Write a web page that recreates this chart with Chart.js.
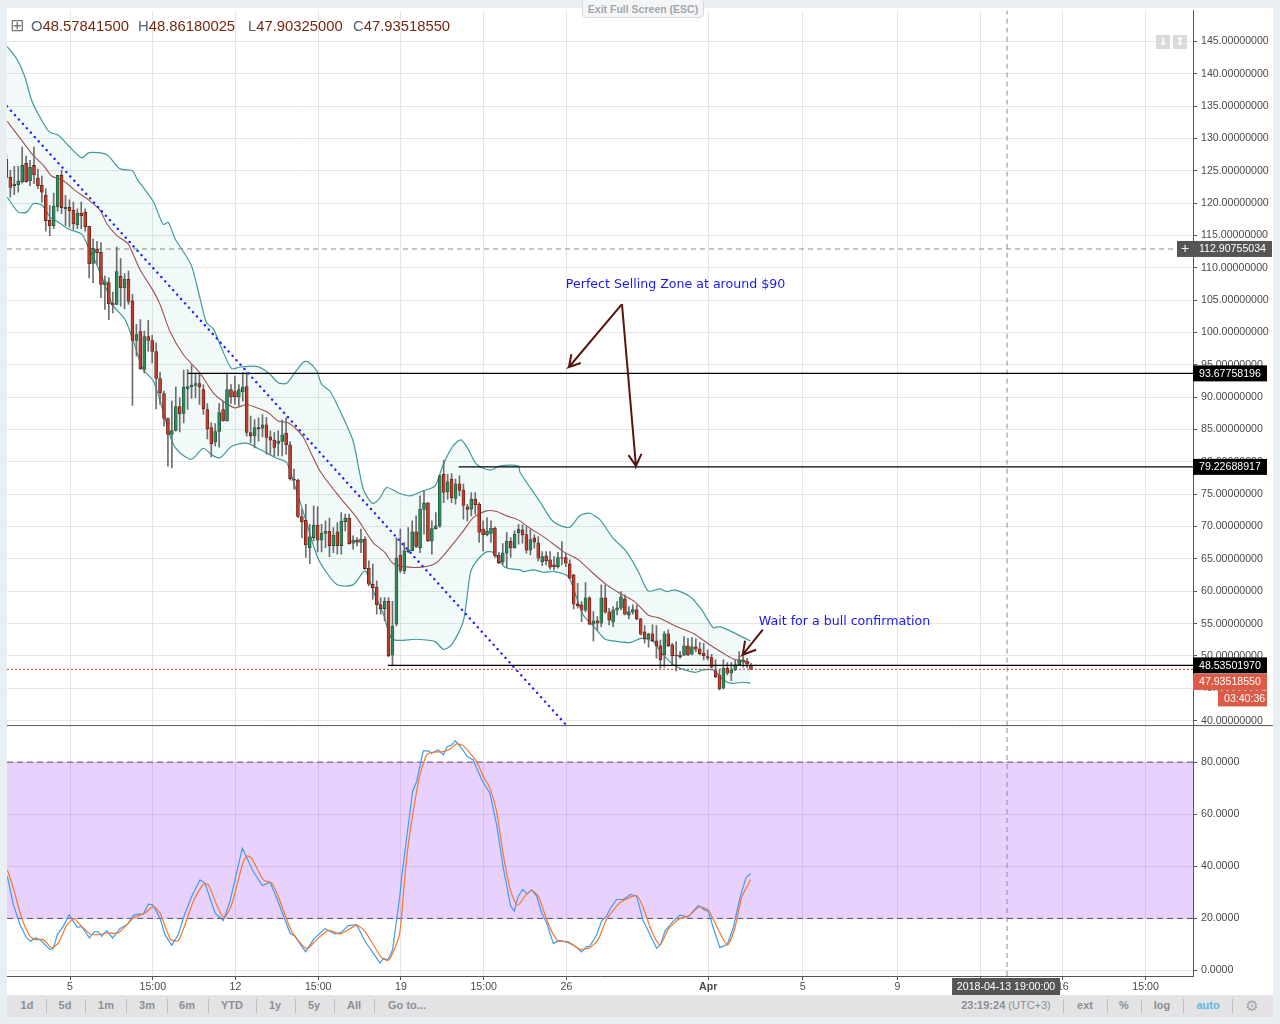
<!DOCTYPE html>
<html>
<head>
<meta charset="utf-8">
<style>
html, body { margin: 0; padding: 0; width: 1280px; height: 1024px; overflow: hidden; background: #e9eef2; }
#chart { position: absolute; left: 0; top: 0; }
.txt { position: absolute; white-space: nowrap; font-family: "Liberation Sans", sans-serif; }
#legend { position: absolute; left: 0; top: 18px; font: 14.8px "Liberation Sans", sans-serif; color: #74280f; }
#legend span { position: absolute; top: 0; white-space: nowrap; }
#legend b { font-weight: normal; color: #54606e; }
#toolbar { position: absolute; left: 7px; top: 995px; width: 1266px; height: 22px; background: #e3e3e6; }
#toolbar span { position: absolute; top: 4px; font: bold 11px "Liberation Sans", sans-serif; color: #8e8e92; transform: translateX(-50%); white-space: nowrap; }
#toolbar i { position: absolute; top: 4px; width: 1px; height: 14px; background: #bdbdc2; }
.iconbox { position: absolute; top: 35px; width: 14px; height: 14px; background: #dadada; color: #fff; font: bold 11px/14px "DejaVu Sans", sans-serif; text-align: center; }
#exit { position: absolute; left: 582px; top: -3px; width: 120px; height: 19px; border: 1px solid #d8dadd; border-radius: 4px; background: #f4f5f6; color: #a2a6ab; font: bold 10.5px/23px "Liberation Sans", sans-serif; text-align: center; }
</style>
</head>
<body>
<canvas id="chart" width="1280" height="1024" style="width:1280px;height:1024px"></canvas>
<div id="exit">Exit Full Screen (ESC)</div>
<div class="txt" style="left:10px;top:15px;font:17px 'DejaVu Sans',sans-serif;color:#777">⊞</div>
<div id="legend">
  <span style="left:31px"><b>O</b>48.57841500</span>
  <span style="left:138px"><b>H</b>48.86180025</span>
  <span style="left:248px"><b>L</b>47.90325000</span>
  <span style="left:353px"><b>C</b>47.93518550</span>
</div>
<div class="iconbox" style="left:1156px">↓</div>
<div class="iconbox" style="left:1173px">↕</div>
<div id="toolbar"></div>
<script src="https://cdn.jsdelivr.net/npm/chart.js@4/dist/chart.umd.min.js"></script>
<script>
// candles, one per 4h bar
const candleOpen = [126.75,123.97,122.68,122.84,123.3,126.13,123.45,125.82,123.87,122.73,121.24,117.32,116.49,119.43,124.28,119.12,119.33,118.87,116.65,118.4,118.61,
  116.39,110.67,112.84,112.37,107.37,107.73,104.54,104.33,108.66,106.91,108.2,104.9,98.76,100.15,94.28,99.38,98.76,97.06,92.89,90.57,86.7,84.23,84.85,88.56,87.47,91.29,91.6,91.8,92.11,91.19,88.09,85.31,83.09,84.69,88.09,86.34,91.19,90.88,90.05,90.82,91.65,84.54,84.02,85.31,
  85.21,85.72,83.87,83.35,82.84,83.14,84.43,82.63,77.32,77.16,71.55,70.98,66.75,68.3,70.21,67.89,68.92,69.28,67.06,69.18,67.06,70.77,71.29,67.42,67.89,67.53,68.04,63.56,61.08,60.62,57.89,57.32,58.45,50.1,54.9,65.57,63.14,66.13,66.29,69.18,66.75,72.63,73.66,67.78,69.69,70.1,78.09,75.36,77.32,74.33,76.6,75.62,73.04,72.68,74.23,73.45,69.59,68.76,68.92,69.74,65.57,64.54,65.88,67.73,66.75,69.07,
  69.48,68.76,66.34,68.25,67.47,64.59,65.46,64.85,64.07,63.81,65.21,65.21,64.23,62.53,58.04,57.89,57.06,58.97,54.9,55.41,55.05,58.97,56.8,55.21,57.06,57.37,58.81,56.29,56.75,57.11,55.72,53.71,52.63,53.4,52.32,51.55,50.15,53.4,51.7,50.15,50.15,50.1,51.55,50.26,51.39,51.08,50.46,49.9,49.74,47.68,47.06,45,48.09,47.32,47.84,48.61,49.38,49.12,48.58];
const candleHigh = [127.5,125.05,125.67,125.67,128.66,127.27,126.6,128.66,125.26,124.18,122.22,119.64,121.55,124.28,125.05,121.19,120.52,120.15,119.12,120.15,119.12,
  116.4,114.43,114.1,113.9,108.71,108.45,106.24,113.2,111.44,109.12,109.48,105.88,101.24,102.01,100.21,101.86,99.54,98.4,93.87,90.93,86.8,89.38,91.6,89.9,94.18,94.28,94.95,93.76,93.66,91.96,89.02,86.03,85.93,89.02,89.38,93.76,91.96,93.25,91.96,93.76,93.76,87.06,86.55,86.8,
  87.3,86.9,84.79,84.54,84.79,86.5,86.8,83.14,78.87,77.32,72.68,73.45,70.36,73.2,73.04,70.36,70.88,71.29,69.85,70.62,72.16,71.91,71.91,68.56,68.3,69.59,68.4,64.69,64.18,61.6,59.02,59.02,59.02,58.45,68.3,69.59,67.53,69.85,70.88,71.65,74.74,75.52,73.71,70.88,72.16,78.09,80.26,78.09,78.2,77.32,77.84,76.55,73.45,75.26,75.26,73.71,70.88,71.39,70.88,69.95,65.98,67.37,69.07,68.3,69.33,70.36,
  70.26,70,69.48,68.71,68.45,66.13,66.13,66.13,65.36,66.03,67.68,65.88,64.85,62.63,61.24,58.4,61.34,59.18,56.86,56.08,60.98,60.98,57.37,57.63,58.4,59.95,59.43,57.63,57.89,57.89,55.82,54.69,53.51,54.79,54.69,52.47,53.76,54.02,51.96,52.22,50.67,52.99,52.73,52.84,52.63,52.11,51.96,50.93,50.26,49.38,47.84,49.38,48.97,48.97,49.38,50.67,50.15,49.64,48.86];
const candleLow = [123.5,120.93,121.29,121.7,123.09,123.25,122.68,122.99,122.22,120.15,115.67,114.95,116.03,118.76,118.35,116.55,116.29,115.93,116.03,116.03,115.67,
  108.45,107.68,110.52,105.36,103.56,101.96,103.04,104.33,104.07,103.66,104.33,88.71,96.34,94.28,93.76,97.11,95.31,88.2,88.87,85.52,79.33,79.07,84.74,84.64,86.03,88.09,89.79,89.9,88.87,87.32,83.56,80.77,82.42,82.27,86.29,86.29,89.02,88.87,88.61,89.38,83.97,82.94,82.16,83.2,
  83.87,81.19,81.19,80.93,80.93,80.93,81.19,77.16,75.77,71.39,68.3,65.21,64.28,67.78,66.08,66.08,66.75,65.36,65.98,65.72,65.72,69.33,67.27,66.49,67.01,65.98,63.4,60.82,58.76,56.44,56.44,55.41,49.9,48.45,54.64,62.89,62.73,65.98,66.24,66.75,65.98,68.81,67.68,65.72,69.59,69.85,73.71,74.23,73.71,73.45,74.74,71.13,70.88,71.65,71.91,67.53,66.24,68.56,67.53,65.21,64.28,64.18,63.66,65.21,66.65,67.27,
  67.42,65.88,65.62,66.65,64.69,63.97,64.07,63.4,63.3,63.56,64.07,63.81,61.91,57.27,57.37,55.31,56.86,54.79,52.32,54.02,54.54,56.6,54.79,54.54,56.34,57.11,56.34,55.72,56.44,55.57,53.25,51.96,51.34,52.22,49.64,48.09,48.25,51.44,48.61,47.68,49.64,50.05,50.05,50.15,50.67,50.15,49.38,49.38,48.14,46.65,44.74,44.9,47.06,46.19,47.73,48.51,48.25,48.2,47.9];
const candleClose = [123.97,122.42,122.94,123.4,125.82,123.3,125.57,124.38,122.68,121.7,117.27,116.49,119.54,124.28,119.28,119.38,118.81,116.8,118.45,118.04,116.34,
  110.62,112.99,112.32,107.42,107.84,104.43,104.28,109.43,106.91,108.25,104.79,98.76,99.69,94.38,99.38,98.76,97.06,92.89,90.67,86.7,84.23,84.85,88.56,87.42,91.55,91.65,91.86,92.11,91.6,88.2,85.1,82.78,84.69,87.63,86.34,91.19,90.05,90.05,91.19,91.55,84.54,84.02,85.31,85.1,
  85.72,83.76,83.35,82.22,83.2,84.18,82.63,77.42,77.16,71.55,70.77,67.16,68.4,70.21,67.89,68.97,69.28,67.06,68.66,67.06,70.82,71.29,67.37,67.89,67.58,68.04,63.5,61.08,60.57,57.94,57.32,58.45,50,54.59,65.1,63.2,66.24,66.39,69.18,66.91,72.68,73.66,67.78,69.69,70.1,77.84,75.26,76.91,74.48,76.6,75.57,73.25,72.63,74.23,73.4,69.12,68.76,69.28,69.74,65.52,64.43,65.88,67.73,66.7,68.81,69.59,
  68.71,66.34,67.99,67.58,65.1,65.36,64.74,63.71,63.81,65.21,65.1,64.33,62.01,57.99,57.78,57.06,58.97,54.9,55.41,55.05,58.97,56.75,55.52,57.11,57.42,59.12,56.44,56.8,57.16,55.72,53.35,52.63,53.4,52.32,51.55,49.38,53.4,51.6,50.05,50,49.9,51.55,50.15,51.39,51.03,50.36,50.05,49.64,48.25,46.8,44.9,48.09,47.32,47.84,48.61,49.38,49.02,48.76,47.94];

// bollinger bands, read at the bars where the curve bends
const upperX = [0.2,2.6,4.7,6.4,8.5,10.9,13.2,15.7,19.1,21,25.4,28.8,32,33.2,37.3,39.8,41.1,42.8,44.7,47,49.1,50.8,52.5,54.6,57.2,59.3,63.5,66.5,69,71.1,73.2,75.4,76.6,78.8,80,82.1,84.7,88,90.6,92.9,94.8,96.5,99.9,102.4,105.8,108.8,110.9,113.4,115.4,117.2,119.3,122.7,125.3,129.9,130.4,135.4,138.8,142.8,145.6,148.1,150.7,154,157.4,160.4,162.9,165.9,167.6,169.7,173.5,176.5,179.4,181.1,184.1,186.6,188.9];
const upperY = [144.2,142.3,139.5,135.9,133.3,131,130.5,128.9,127,127.8,127.5,125.3,125,123.7,120.2,116.7,117,114.5,112.7,110.3,105.4,101.5,100.6,97.6,94.4,94.66,94.77,93.78,92.24,92.14,93.78,95.43,95.48,94.04,91.99,90.95,87.87,83.23,75.77,73.6,74.4,76.03,75.1,74.74,75.52,76.29,79.64,82.47,83.4,81.96,79.64,78.71,79.38,79.38,78.35,73.87,70.77,69.85,71.7,72.06,71.03,68.2,66.13,63.04,60.05,60.36,59.95,60.2,59.18,57.11,54.38,54.54,53.76,52.99,52.32];
const lowerX = [0.2,3,5.2,6.8,9,11.1,12.8,15.7,19.1,21,22.9,25,26.9,30.1,32.2,34.7,37.3,39.8,42,44,47,50,52.1,54.2,57.2,61,64.4,68.6,71.1,72.8,75.8,79.2,83.8,88,91,93.1,95.7,98,104.1,108.8,110.9,113,116,117.8,119.4,121.9,123.6,126.6,130.4,131.2,133.7,136.3,139.2,142.6,143.9,146.4,148.9,151.9,154,158.3,161.2,164.2,166.7,170.1,174.8,176.9,179.4,182,184.1,187,188.9];
const lowerY = [120.93,118.6,118.6,119.9,119.7,117.8,117.2,116,115.2,112.9,110.5,107.4,104.3,102,98.7,94.3,92.5,87.8,83.2,81.4,80.4,82.1,81.1,80.6,82.4,82.9,81.9,80.57,79.9,77.06,71.4,64.95,61.08,60.98,63.14,60.05,56.44,52.58,52.58,52.22,51.03,51.7,55.41,62.89,64.69,66.08,65.98,63.66,63.3,63.04,63.3,62.94,63.04,62.27,60.46,56.34,54.69,52.63,52.32,52.06,52.73,52.22,50.15,48.35,47.47,47.84,47.84,46.29,45.77,45.93,45.77];
const basisX = [0.2,3.9,6.8,9.4,11.5,14.4,17.4,21,23.8,25.5,28,30.9,31.8,33.9,37.3,39,41.5,44.9,49.1,52.5,55,58,61,63.5,66.5,69,71.5,73.7,75.4,79.6,84.7,88.9,93.1,96.1,98.2,101.6,105.8,109.2,112.6,116,118.5,121.9,124.4,127,129.9,132.9,136.3,141.4,145.2,148.9,152.4,155.7,159.5,162.9,165.9,170.1,174.3,178.6,182,184.5,188.7];
const basisY = [132.63,129.69,127.37,125.82,124.18,123.5,121.96,120.41,118.87,116.8,115,113.7,112.58,109.74,106.39,104.33,100.2,96.6,93.76,90.67,89.38,88.35,88.87,88.38,87.6,86.3,86.05,85,83.76,78.6,74.48,71.39,67.53,65.98,64.28,63.76,63.76,64.43,66.75,69.33,71.39,72.42,72.32,71.65,71.03,69.74,68.45,66.13,64.85,62.78,60.98,59.69,58.4,56.34,55.82,54.54,53.5,51.7,50.41,49.54,49.02];

// stochastic pane
const stochKX = [0.24,1.76,3.45,5.14,6.16,7.26,8.53,11.07,11.91,12.93,14.45,15.89,18,19.1,21.05,22.32,23.33,24.18,25.45,26.97,28.83,30.95,32.22,33.23,34.75,36.02,37.12,38.98,40.25,41.95,43.64,44.91,47.02,47.87,49.14,50.4,51.67,52.94,55.05,56.75,59.88,62.67,64.96,66.9,68.6,71.98,73.25,75.96,77.9,80.86,83.4,85.09,86.78,88.9,91.01,94.82,95.67,96.93,98.04,99.9,100.32,101.59,103.11,104.13,105.82,107.09,107.94,109.63,110.9,111.91,113.01,113.94,115.55,116.99,118.51,120.63,122.74,124.43,126.12,127.99,128.92,129.93,131.03,132.22,133.32,134.58,135.85,137.12,138.82,140.51,142.62,144.31,146.01,147.28,148.12,149.81,151.08,152.35,153.37,154.89,156.58,158.44,159.97,161.66,162.93,165.04,166.06,167.16,169.27,170.96,173.08,175.62,177.31,178.16,179.42,181.12,182.98,184.5,186.19,187.72,188.9];
const stochKY = [36.1,25.26,17.6,12.5,11.22,12.5,11.86,8.04,8.42,13.78,16.96,21.43,16.58,16.96,12.5,14.8,14.8,13.14,15.31,12.5,16.07,17.98,21.17,21.68,21.68,25.51,25.26,20.15,13.78,9.69,13.78,20.15,28.44,31,34.82,33.55,27.81,22.07,19.26,26.53,46.94,38.01,32.65,33.93,27.81,14.41,13.14,7.14,11.86,16.07,14.03,14.8,17.22,17.6,11.22,2.93,4.59,4.21,8.04,29.08,35.56,50.87,68.72,72.55,84.29,84.29,83.39,84.67,82.76,85.94,86.58,88.24,85.31,82.12,80.84,73.19,68.09,55.97,39.39,24.72,22.81,28.55,31.1,29.44,30.97,28.55,22.17,18.34,10.43,11.58,10.69,9.41,7.12,9.16,9.41,13.62,18.98,20.89,24.08,27.27,27.27,29.18,28.55,18.98,15.15,8.52,10.05,15.15,18.98,21.28,20.64,24.97,23.19,22.81,16.43,8.78,10.05,16.43,27.91,35.56,37.22];
const stochDX = [0.24,1.76,3.87,5.99,7.26,9.37,11.49,13.18,15.3,17.16,18.68,21.22,23.33,25.45,28.41,32.22,35.18,37.29,38.98,41.69,43.64,45.33,47.44,49.98,51.25,53.37,55.23,57.17,60.13,61.15,62.25,65.21,67.33,69.02,72.4,76.21,78.75,81.71,84.67,88.9,91.01,95.24,96.93,98.63,99.9,101.59,103.28,104.97,106.67,107.94,110.9,112.59,114.28,115.97,119.36,121.05,122.74,124.43,126.12,127.99,129.76,131.62,133.32,135.01,137.12,138.82,140.08,142.62,145.58,148.12,150.24,152.35,155.74,159.97,161.66,163.77,165.89,168,170.54,173.08,176.04,178.16,179.85,182.98,184.92,186.61,188.9];
const stochDY = [38.65,31.63,20.15,13.14,11.86,11.86,8.67,10.59,17.35,19.9,17.6,14.03,13.78,14.41,14.41,20.15,22.07,24.62,22.07,11.86,11.48,17.6,26.53,33.16,32.91,25.26,20.15,25.26,41.84,44.01,43.11,34.82,33.55,28.44,15.05,8.42,11.86,15.43,14.03,17.35,15.05,4.85,3.95,8.67,15.05,43.21,61.07,75.1,82.76,83.78,84.03,85.05,86.96,86.33,80.2,74.46,70,61.07,44.49,30.46,24.97,28.55,30.71,28.55,19.62,13.88,11.33,11.07,8.14,8.78,11.96,19.62,26,28.8,24.08,15.15,9.8,15.79,19.62,20.89,24.46,23.19,18.34,9.8,16.43,27.91,34.92];
const stochLevels = [80, 20];

// drawings on the price pane
const trendX = [0.15, 142];
const trendY = [134.96, 39.38];
const levelStartX = [46, 114.8, 96.8];
const levelPrices = [93.67758196, 79.22688917, 48.53501970];
const lastPrice = 47.9351855;
const crosshairBar = 254;
const crosshairPrice = 112.90755034;
const arrow1X = [156.25,142.8,145.8,142.8,143.4];
const arrow1Y = [104.39,94.66,95.28,94.66,96.64];
const arrow2X = [156.25,159.8,161.2,159.8,157.9];
const arrow2Y = [104.39,79.37,81.23,79.37,81.03];
const arrow3X = [192,186.9,190.3,186.9,187.5];
const arrow3Y = [54.05,50.19,50.96,50.19,52.35];

const timeTickBars = [16.15,37.15,58.15,79.15,100.15,121.15,142.15,178.15,202.15,226.15,247.15,268.15,289.15];
const timeTickLabels = ['5','15:00','12','15:00','19','15:00','26','Apr','5','9','','16','15:00'];

const xMin = 0.15, xMax = 301.2;
const priceMin = 39.23, priceMax = 149.79;
const stochMin = -2.1, stochMax = 94;

const toolbarLeft = [['1d',20],['5d',58],['1m',99],['3m',140],['6m',180],['YTD',225],['1y',268],['5y',307],['All',347],['Go to...',400]];
const toolbarRight = [['ext',1078],['%',1117],['log',1155]];
const toolbarSeps = [39,78,119,160,201,249,288,327,367,1056,1100,1134,1176,1225];

const toolbar = document.getElementById('toolbar');
toolbarLeft.concat(toolbarRight).forEach(b => {
    const s = document.createElement('span');
    s.textContent = b[0];
    s.style.left = b[1] + 'px';
    toolbar.appendChild(s);
});
toolbarSeps.forEach(x => {
    const i = document.createElement('i');
    i.style.left = x + 'px';
    toolbar.appendChild(i);
});
toolbar.insertAdjacentHTML('beforeend',
    '<span style="left:999px">23:19:24 <span style="position:static;transform:none;font-weight:normal">(UTC+3)</span></span>' +
    '<span style="left:1201px;color:#5cb8e0">auto</span>' +
    '<span style="left:1245px;top:2px;font:15px \'DejaVu Sans\',sans-serif;color:#a5a5a8">⚙</span>');

const zip = (xs, ys) => xs.map((x, i) => ({ x: x, y: ys[i] }));
const isUp = i => candleClose[i] >= candleOpen[i];
const BODY_RED = '#c23c2a', BODY_GREEN = '#2f8a5c';
const EDGE_RED = '#4f1c14', EDGE_GREEN = '#1e4a34';
const TICK_FONT = '"Liberation Sans", sans-serif';

Chart.defaults.font.family = TICK_FONT;

const line = (id, data, color, width, order, extra) => Object.assign({
    type: 'line', yAxisID: id, data: data, borderColor: color, borderWidth: width,
    pointRadius: 0, tension: 0, fill: false, order: order, spanGaps: true
}, extra || {});
const flat = (fromX, value) => [{ x: fromX, y: value }, { x: xMax, y: value }];

const datasets = [
    // purple stochastic band, filled to the next dataset
    line('stoch', flat(xMin, stochLevels[0]), '#5e5066', 1, 30, { borderDash: [6, 4], fill: '+1', backgroundColor: 'rgba(147,25,245,0.2)' }),
    line('stoch', flat(xMin, stochLevels[1]), '#5e5066', 1, 30, { borderDash: [6, 4] }),
    // crosshair
    line('price', flat(xMin, crosshairPrice), '#8c8c8c', 1, 26, { borderDash: [5, 4] }),
    line('price', [{ x: crosshairBar, y: priceMin }, { x: crosshairBar, y: priceMax }], '#8c8c8c', 1, 26, { borderDash: [5, 4] }),
    line('stoch', [{ x: crosshairBar, y: stochMin }, { x: crosshairBar, y: stochMax }], '#8c8c8c', 1, 26, { borderDash: [5, 4] }),
    // bollinger, upper fills down to lower
    line('price', zip(upperX, upperY), '#3f9b9b', 1.2, 20, { tension: 0.25, fill: '+1', backgroundColor: 'rgba(0,128,128,0.05)' }),
    line('price', zip(lowerX, lowerY), '#3f9b9b', 1.2, 20, { tension: 0.25 }),
    line('price', zip(basisX, basisY), '#a0524e', 1.1, 19, { tension: 0.25 }),
    // candles
    {
        type: 'bar', yAxisID: 'price', order: 15, grouped: false, barThickness: 1,
        data: candleHigh.map((h, i) => ({ x: i, y: [candleLow[i], h] })),
        backgroundColor: '#6e6e6e'
    },
    {
        type: 'bar', yAxisID: 'price', order: 14, grouped: false, barThickness: 3,
        data: candleOpen.map((o, i) => ({ x: i, y: [o, candleClose[i]] })),
        backgroundColor: candleOpen.map((o, i) => isUp(i) ? BODY_GREEN : BODY_RED),
        borderColor: candleOpen.map((o, i) => isUp(i) ? EDGE_GREEN : EDGE_RED),
        borderWidth: 0.7, borderSkipped: false
    },
    // last price
    line('price', flat(xMin, lastPrice), '#c0392b', 1, 12, { borderDash: [2, 2] }),
    // horizontal levels
    line('price', flat(levelStartX[0], levelPrices[0]), '#000', 1.4, 11),
    line('price', flat(levelStartX[1], levelPrices[1]), '#000', 1.4, 11),
    line('price', flat(levelStartX[2], levelPrices[2]), '#000', 1.4, 11),
    // dotted trend line
    line('price', zip(trendX, trendY), '#1f1fff', 2.4, 10, { borderDash: [0.1, 5.8], borderCapStyle: 'round' }),
    // hand drawn arrows
    line('price', zip(arrow1X, arrow1Y), '#5a1510', 2, 5),
    line('price', zip(arrow2X, arrow2Y), '#5a1510', 2, 5),
    line('price', zip(arrow3X, arrow3Y), '#5a1510', 2, 5),
    // stochastic lines
    line('stoch', zip(stochKX, stochKY), '#3d9bf0', 1.2, 4),
    line('stoch', zip(stochDX, stochDY), '#f5772a', 1.2, 3, { tension: 0.2 })
];

const paneBackground = {
    id: 'paneBackground',
    beforeDraw(chart) {
        const c = chart.ctx;
        c.save();
        c.fillStyle = '#fff';
        c.fillRect(7, 8, 1266, 987);
        c.restore();
    }
};

const drawTag = (c, x, y, w, h, bg, text) => {
    c.fillStyle = bg;
    c.fillRect(x, y - h / 2, w, h);
    c.fillStyle = '#fff';
    c.textAlign = 'left';
    c.textBaseline = 'middle';
    c.fillText(text, x + 6, y + 0.5);
};

const overlays = {
    id: 'overlays',
    afterDraw(chart) {
        const c = chart.ctx, p = chart.scales.price, sx = chart.scales.x, right = p.left;
        c.save();
        // pane separator
        c.strokeStyle = '#555';
        c.lineWidth = 1;
        c.beginPath();
        c.moveTo(7, p.bottom);
        c.lineTo(1273, p.bottom);
        c.stroke();

        c.font = '10.6px ' + TICK_FONT;
        const cy = p.getPixelForValue(crosshairPrice);
        c.fillStyle = '#555';
        c.fillRect(right - 16, cy - 8, 16, 16);
        c.fillStyle = '#fff';
        c.textAlign = 'center';
        c.textBaseline = 'middle';
        c.font = '14px ' + TICK_FONT;
        c.fillText('+', right - 8, cy);
        c.font = '10.6px ' + TICK_FONT;
        drawTag(c, right, cy, 79, 16, '#555', crosshairPrice.toFixed(8));

        levelPrices.forEach(v => drawTag(c, right, p.getPixelForValue(v), 74, 16, '#000', v.toFixed(8)));
        drawTag(c, right, p.getPixelForValue(levelPrices[2]) + 16.5, 74, 16, '#dc5a46', lastPrice.toFixed(8));
        drawTag(c, right + 25, p.getPixelForValue(levelPrices[2]) + 33, 49, 16, '#dc5a46', '03:40:36');

        // crosshair date
        const dx = sx.getPixelForValue(crosshairBar);
        c.fillStyle = '#555';
        c.fillRect(dx - 55, sx.top + 2, 108, 17);
        c.fillStyle = '#fff';
        c.textAlign = 'center';
        c.fillText('2018-04-13 19:00:00', dx - 1, sx.top + 11);

        // notes, anchored at their bar and price
        c.font = '12.6px "DejaVu Sans", sans-serif';
        c.fillStyle = '#1a1aee';
        c.textAlign = 'left';
        c.fillText('Perfect Selling Zone at around $90', sx.getPixelForValue(142), p.getPixelForValue(107.32));
        c.fillText('Wait for a bull confirmation', sx.getPixelForValue(191), p.getPixelForValue(55.28));
        c.restore();
    }
};

const GRID = '#e6e6e6';
new Chart(document.getElementById('chart').getContext('2d'), {
    type: 'line',
    data: { datasets: datasets },
    plugins: [paneBackground, overlays],
    options: {
        responsive: false,
        animation: false,
        events: [],
        layout: { padding: { left: 7, top: 8, right: 7, bottom: 29 } },
        plugins: { legend: { display: false }, tooltip: { enabled: false } },
        scales: {
            x: {
                type: 'linear', min: xMin, max: xMax, offset: false,
                grid: { color: GRID, tickColor: '#555', tickLength: 4, offset: false },
                border: { color: '#555' },
                afterBuildTicks: s => { s.ticks = timeTickBars.map(v => ({ value: v })); },
                afterFit: s => { s.height = 19; },
                ticks: {
                    autoSkip: false, maxRotation: 0, padding: 1, color: '#4a4a4a',
                    callback: v => timeTickLabels[timeTickBars.indexOf(v)],
                    font: ctx => ({ size: 10.6, family: TICK_FONT, weight: ctx.tick && ctx.tick.label === 'Apr' ? 'bold' : 'normal' })
                }
            },
            price: {
                type: 'linear', position: 'right', stack: 'panes', stackWeight: 717,
                min: priceMin, max: priceMax,
                grid: { color: GRID, tickColor: '#555', tickLength: 4 },
                border: { color: '#555' },
                afterFit: s => { s.width = 80; },
                ticks: { stepSize: 5, includeBounds: false, padding: 4, color: '#4a4a4a', font: { size: 10.6 }, callback: v => v.toFixed(8) }
            },
            stoch: {
                type: 'linear', position: 'right', stack: 'panes', stackWeight: 251,
                min: stochMin, max: stochMax,
                grid: { color: GRID, tickColor: '#555', tickLength: 4 },
                border: { color: '#555' },
                afterFit: s => { s.width = 80; },
                ticks: { stepSize: 20, includeBounds: false, padding: 4, color: '#4a4a4a', font: { size: 10.6 }, callback: v => v.toFixed(4) }
            }
        }
    }
});
</script>
</body>
</html>
